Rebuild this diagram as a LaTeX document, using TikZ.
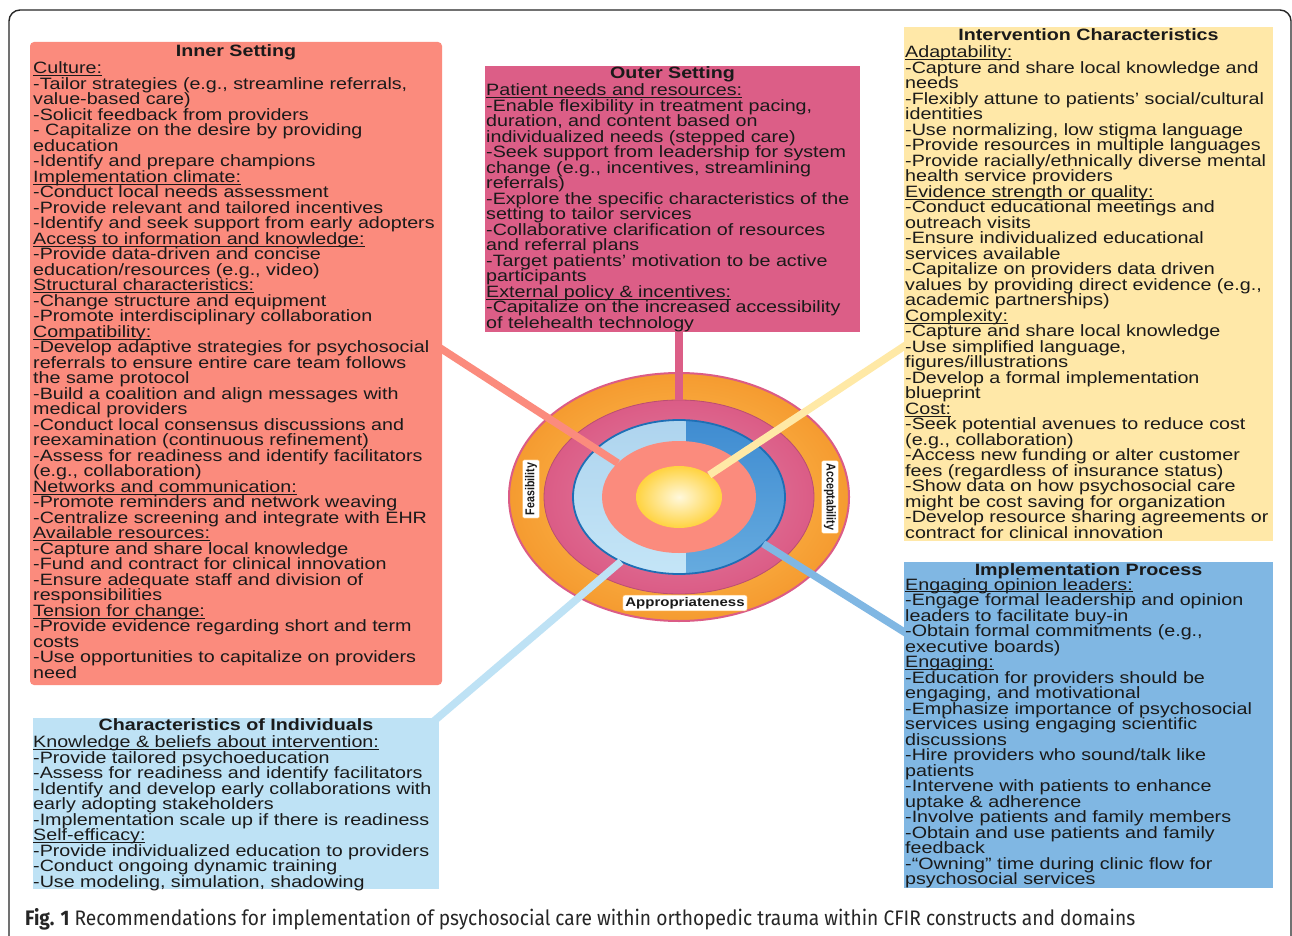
\documentclass[tikz,border=0pt]{standalone}
\usepackage{fontspec}
\usepackage{graphicx}
\setmainfont{Liberation Sans}
\newfontfamily\boxfont[FakeStretch=1.2]{Liberation Sans}
\newfontfamily\capfont{Fira Sans}
\usetikzlibrary{shapes.geometric,calc}
\pgfdeclarelayer{bg}\pgfdeclarelayer{mid}
\pgfsetlayers{bg,mid,main}
\definecolor{cInner}{HTML}{FB8B7D}
\definecolor{cOuter}{HTML}{DC5E87}
\definecolor{cInterv}{HTML}{FFE8A8}
\definecolor{cProc}{HTML}{80B7E3}
\definecolor{cIndiv}{HTML}{BEE2F5}
\definecolor{cOrange}{HTML}{F9A83F}
\definecolor{cOrangeD}{HTML}{F59B30}
\definecolor{cOrangeL}{HTML}{FFC65A}
\definecolor{cMag}{HTML}{DB5C86}
\definecolor{cBlueL}{HTML}{B9DDF3}
\definecolor{cBlueLT}{HTML}{AED4EE}
\definecolor{cBlueLB}{HTML}{C4E5F7}
\definecolor{cBlueDT}{HTML}{3F8CD1}
\definecolor{cBlueDB}{HTML}{66ABDF}
\definecolor{cBlueB}{HTML}{1E6FB5}
\definecolor{cYel}{HTML}{FFD340}
\definecolor{cYelC}{HTML}{FFF8DC}
\definecolor{cLineY}{HTML}{FFE9A6}
\definecolor{cTxt}{HTML}{1A1A1A}
\newcommand{\hd}[1]{\leavevmode\setbox0\hbox{#1}\rlap{\color{cTxt}\rule[-2.3pt]{\wd0}{0.9pt}}\box0}
\newcommand{\btext}[1]{\parbox[t]{520pt}{\boxfont\fontsize{16.4}{15.5}\selectfont\lineskiplimit=-100pt\lineskip=0pt\noindent #1\par}}
\newcommand{\vst}[1]{\scalebox{1}[1.2]{#1}}
\begin{document}
\begin{tikzpicture}[x=1pt,y=-1pt,
  box/.style={rectangle, inner sep=0, outer sep=0, anchor=north west},
  ttl/.style={font=\boxfont\bfseries\fontsize{16.4}{18}\selectfont, text=cTxt, anchor=base, inner sep=0},
  body/.style={anchor=base west, inner sep=0, text=cTxt},
  ring/.style={ellipse, inner sep=0, outer sep=0},
  conn/.style={line width=7.5pt},
  lbl/.style={fill=white, draw=cInterv!60!orange, rounded corners=2pt, inner sep=2.5pt, text=cTxt, font=\bfseries\fontsize{10.7}{12}\selectfont}]
\useasboundingbox (0,0) rectangle (1292,936);

% ---------------- central target ----------------
\begin{pgfonlayer}{bg}
\fill[white] (0,0) rectangle (1292,936);
\node[ring, minimum width=340pt, minimum height=248pt, inner color=cOrangeL, outer color=cOrangeD, shade, draw=cMag, line width=2pt] (orng) at (679,497) {};
\node[ring, minimum width=270pt, minimum height=194pt, inner color=cMag!75!white, outer color=cMag, shade, draw=cMag!85!black, line width=0.8pt] (mag) at (679,497) {};
\node[ring, minimum width=212pt, minimum height=154pt] (blu) at (679,497) {};
\begin{scope}
  \clip (560,400) rectangle (686,600);
  \shade[top color=cBlueLT, bottom color=cBlueLB] (blu.center) ellipse [x radius=106, y radius=77];
\end{scope}
\begin{scope}
  \clip (686,400) rectangle (800,600);
  \shade[top color=cBlueDT, bottom color=cBlueDB] (blu.center) ellipse [x radius=106, y radius=77];
\end{scope}
\draw[cBlueB, line width=1.8pt] (blu.center) ellipse [x radius=106, y radius=77];
\node[ring, minimum width=154pt, minimum height=112pt, fill=cInner] (sal) at (679,497) {};
\node[ring, minimum width=86pt, minimum height=62pt, shade, inner color=cYelC, outer color=cYel] (yel) at (679,497) {};
\end{pgfonlayer}
\draw[line width=1.4pt, rounded corners=11pt, black!85] (9,10) rectangle (1291,948);

\node[lbl, rotate=90, inner xsep=3pt] (fea) at (531,489) {\vst{Feasibility}};
\node[lbl, rotate=-90, inner xsep=3pt] (acc) at (830,497) {\vst{Acceptability}};
\node[lbl, font=\boxfont\bfseries\fontsize{12.5}{14}\selectfont, inner ysep=2pt] (app) at (685,603) {Appropriateness};

% ---------------- boxes ----------------
\node[box, fill=cInner, rounded corners=4pt, minimum width=412pt, minimum height=643pt] (inner) at (30,42) {};
\node[ttl] (innerT) at ($(inner.north)+(0,15)$) {Inner Setting};
\node[body] (innerB) at ($(inner.north west)+(3,32)$) {\btext{%
\hd{Culture:}\\
-Tailor strategies (e.g., streamline referrals,\\
value-based care)\\
-Solicit feedback from providers\\
- Capitalize on the desire by providing\\
education\\
-Identify and prepare champions\\
\hd{Implementation climate:}\\
-Conduct local needs assessment\\
-Provide relevant and tailored incentives\\
-Identify and seek support from early adopters\\
\hd{Access to information and knowledge:}\\
-Provide data-driven and concise\\
education/resources (e.g., video)\\
\hd{Structural characteristics:}\\
-Change structure and equipment\\
-Promote interdisciplinary collaboration\\
\hd{Compatibility:}\\
-Develop adaptive strategies for psychosocial\\
referrals to ensure entire care team follows\\
the same protocol\\
-Build a coalition and align messages with\\
medical providers\\
-Conduct local consensus discussions and\\
reexamination (continuous refinement)\\
-Assess for readiness and identify facilitators\\
(e.g., collaboration)\\
\hd{Networks and communication:}\\
-Promote reminders and network weaving\\
-Centralize screening and integrate with EHR\\
\hd{Available resources:}\\
-Capture and share local knowledge\\
-Fund and contract for clinical innovation\\
-Ensure adequate staff and division of\\
responsibilities\\
\hd{Tension for change:}\\
-Provide evidence regarding short and term\\
costs\\
-Use opportunities to capitalize on providers\\
need}};

\node[box, fill=cOuter, minimum width=375pt, minimum height=266pt] (outer) at (485,66) {};
\node[ttl] (outerT) at ($(outer.north)+(0,13)$) {Outer Setting};
\node[body] (outerB) at ($(outer.north west)+(1,30)$) {\btext{%
\hd{Patient needs and resources:}\\
-Enable flexibility in treatment pacing,\\
duration, and content based on\\
individualized needs (stepped care)\\
-Seek support from leadership for system\\
change (e.g., incentives, streamlining\\
referrals)\\
-Explore the specific characteristics of the\\
setting to tailor services\\
-Collaborative clarification of resources\\
and referral plans\\
-Target patients’ motivation to be active\\
participants\\
\hd{External policy \& incentives:}\\
-Capitalize on the increased accessibility\\
of telehealth technology}};

\node[box, fill=cInterv, minimum width=369pt, minimum height=514pt] (interv) at (904,27) {};
\node[ttl] (intervT) at ($(interv.north)+(0,13.7)$) {Intervention Characteristics};
\node[body] (intervB) at ($(interv.north west)+(1,31)$) {\btext{%
\hd{Adaptability:}\\
-Capture and share local knowledge and\\
needs\\
-Flexibly attune to patients’ social/cultural\\
identities\\
-Use normalizing, low stigma language\\
-Provide resources in multiple languages\\
-Provide racially/ethnically diverse mental\\
health service providers\\
\hd{Evidence strength or quality:}\\
-Conduct educational meetings and\\
outreach visits\\
-Ensure individualized educational\\
services available\\
-Capitalize on providers data driven\\
values by providing direct evidence (e.g.,\\
academic partnerships)\\
\hd{Complexity:}\\
-Capture and share local knowledge\\
-Use simplified language,\\
figures/illustrations\\
-Develop a formal implementation\\
blueprint\\
\hd{Cost:}\\
-Seek potential avenues to reduce cost\\
(e.g., collaboration)\\
-Access new funding or alter customer\\
fees (regardless of insurance status)\\
-Show data on how psychosocial care\\
might be cost saving for organization\\
-Develop resource sharing agreements or\\
contract for clinical innovation}};

\node[box, fill=cProc, minimum width=369pt, minimum height=326pt] (proc) at (904,562) {};
\node[ttl] (procT) at ($(proc.north)+(0,13)$) {Implementation Process};
\node[body] (procB) at ($(proc.north west)+(1,28)$) {\btext{%
\hd{Engaging opinion leaders:}\\
-Engage formal leadership and opinion\\
leaders to facilitate buy-in\\
-Obtain formal commitments (e.g.,\\
executive boards)\\
\hd{Engaging:}\\
-Education for providers should be\\
engaging, and motivational\\
-Emphasize importance of psychosocial\\
services using engaging scientific\\
discussions\\
-Hire providers who sound/talk like\\
patients\\
-Intervene with patients to enhance\\
uptake \& adherence\\
-Involve patients and family members\\
-Obtain and use patients and family\\
feedback\\
-“Owning” time during clinic flow for\\
psychosocial services}};

\node[box, fill=cIndiv, minimum width=406pt, minimum height=171pt] (indiv) at (33,718) {};
\node[ttl] (indivT) at ($(indiv.north)+(0,12)$) {Characteristics of Individuals};
\node[body] (indivB) at ($(indiv.north west)+(0,29.5)$) {\btext{%
\hd{Knowledge \& beliefs about intervention:}\\
-Provide tailored psychoeducation\\
-Assess for readiness and identify facilitators\\
-Identify and develop early collaborations with\\
early adopting stakeholders\\
-Implementation scale up if there is readiness\\
\hd{Self-efficacy:}\\
-Provide individualized education to providers\\
-Conduct ongoing dynamic training\\
-Use modeling, simulation, shadowing}};

% ---------------- connectors ----------------
\begin{pgfonlayer}{mid}
\draw[conn, cOuter] (mag.north) -- ($(mag.north |- outer.south)+(0,-5)$);
\draw[conn, cInner] (sal.151) -- ($(inner.north east)+(-5,304)$);
\draw[conn, cLineY] (yel.36) -- ($(interv.north west)+(5,316)$);
\draw[conn, cProc] (blu.331) -- ($(proc.north west)+(5,73)$);
\draw[conn, cIndiv] (blu.228) -- ($(indiv.north east)+(-5,3)$);
\end{pgfonlayer}

% ---------------- caption ----------------
\node[anchor=base west, inner sep=0, text=black!85] (cap) at (25,925) {\resizebox{1110pt}{\height}{\capfont\fontsize{21}{24}\selectfont\textbf{Fig. 1} Recommendations for implementation of psychosocial care within orthopedic trauma within CFIR constructs and domains}};
\end{tikzpicture}
\end{document}
